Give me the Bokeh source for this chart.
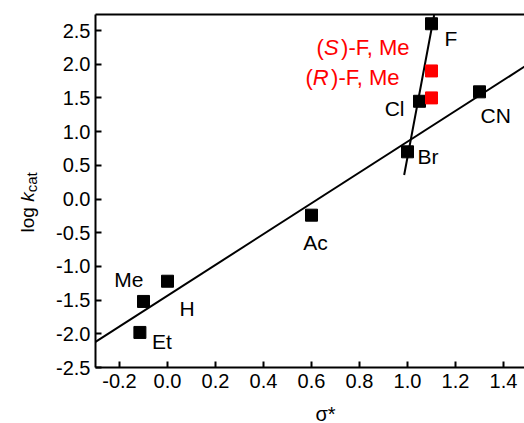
import math
from bokeh.plotting import figure
from bokeh.models import ColumnDataSource, Label, LinearAxis, FixedTicker, Range1d
from bokeh.core.properties import value
from bokeh.embed import file_html
from bokeh.resources import INLINE

# ---------------- data ----------------
names = ["Me", "H", "Et", "Ac", "Br", "Cl", "F", "CN"]
sigma = [-0.10, 0.00, -0.115, 0.60, 1.00, 1.05, 1.10, 1.30]
logk = [-1.52, -1.22, -1.98, -0.24, 0.70, 1.45, 2.60, 1.59]

red_names = ["S", "R"]
red_sigma = [1.10, 1.10]
red_logk = [1.90, 1.50]

# fitted lines (end points)
fit_all_x = [-0.30, 1.49]
fit_all_y = [-2.12, 1.97]
fit_hal_x = [0.986, 1.111]
fit_hal_y = [0.356, 2.73]

x_ticks = [-0.2, 0.0, 0.2, 0.4, 0.6, 0.8, 1.0, 1.2, 1.4]
x_tick_labels = ["-0.2", "0.0", "0.2", "0.4", "0.6", "0.8", "1.0", "1.2", "1.4"]
y_ticks = [-2.5, -2.0, -1.5, -1.0, -0.5, 0.0, 0.5, 1.0, 1.5, 2.0, 2.5]
y_tick_labels = ["-2.5", "-2.0", "-1.5", "-1.0", "-0.5", "0.0", "0.5", "1.0", "1.5", "2.0", "2.5"]

# axis extents (data)
AX_X0, AX_Y0 = -0.3, -2.5

# ---------------- styles / layout ----------------
FONT = "Liberation Sans"
W, H = 524, 423
LEFT_PX, TOP_PX, BOTTOM_PX = 95, 14, 367      # where the axes sit on the canvas
PPX, PPY = 240.0, 67.4                         # pixels per data unit
XS = AX_X0 - LEFT_PX / PPX
XE = AX_X0 + (W - LEFT_PX) / PPX
YS = AX_Y0 - (H - BOTTOM_PX) / PPY
YE = AX_Y0 + BOTTOM_PX / PPY
AX_YT = AX_Y0 + (BOTTOM_PX - TOP_PX) / PPY


def dy(py):
    """canvas pixel y (from top) -> data y"""
    return YE - py / PPY


def dx(px):
    return XS + px / PPX


# label offsets in pixels (dx, dy down-positive, align)
label_dx = [0, 12, 12, 4, 10, -15, 13, 1]
label_dy = [-22, 27, 9, 27, 5, 7, 15, 24]
label_align = ["right", "left", "left", "center", "left", "right", "left", "left"]

p = figure(width=W, height=H, x_range=Range1d(XS, XE), y_range=Range1d(YS, YE),
           output_backend="svg", toolbar_location=None,
           min_border_left=0, min_border_right=0, min_border_top=0, min_border_bottom=0)
p.grid.visible = False
p.outline_line_color = None
p.background_fill_color = "white"
p.border_fill_color = "white"

for ax in (p.xaxis[0], p.yaxis[0]):
    ax.axis_line_width = 2
    ax.axis_line_color = "black"
    ax.major_tick_line_width = 2
    ax.major_tick_line_color = "black"
    ax.major_tick_in = 6
    ax.major_tick_out = 0
    ax.minor_tick_line_color = None
    ax.major_label_text_font = FONT
    ax.major_label_text_font_size = "20px"
    ax.major_label_text_color = "black"

p.xaxis.ticker = FixedTicker(ticks=x_ticks)
p.xaxis.major_label_overrides = {t: l for t, l in zip(x_ticks, x_tick_labels)}
p.xaxis.major_label_standoff = 6
p.xaxis.fixed_location = AX_Y0
p.xaxis.bounds = (AX_X0, XE + 1)
p.yaxis.ticker = FixedTicker(ticks=y_ticks)
p.yaxis.major_label_overrides = {t: l for t, l in zip(y_ticks, y_tick_labels)}
p.yaxis.major_label_standoff = 5
p.yaxis.fixed_location = AX_X0
p.yaxis.bounds = (AX_Y0, AX_YT)

top = LinearAxis(ticker=FixedTicker(ticks=[]), major_label_text_font_size="0px",
                 axis_line_width=2, axis_line_color="black",
                 major_tick_line_color=None, minor_tick_line_color=None,
                 fixed_location=AX_YT, bounds=(AX_X0, XE + 1))
p.add_layout(top, "above")

# lines
p.line(fit_all_x, fit_all_y, line_width=2, line_color="black")
p.line(fit_hal_x, fit_hal_y, line_width=2, line_color="black")

# points
src = ColumnDataSource(dict(x=sigma, y=logk))
p.scatter("x", "y", source=src, marker="square", size=12, color="black")
rsrc = ColumnDataSource(dict(x=red_sigma, y=red_logk))
p.scatter("x", "y", source=rsrc, marker="square", size=12, color="#ff0000")

# black labels
for al in ("left", "right", "center"):
    idx = [i for i, a in enumerate(label_align) if a == al]
    s = ColumnDataSource(dict(x=[sigma[i] for i in idx], y=[logk[i] for i in idx],
                              t=[names[i] for i in idx], dx=[label_dx[i] for i in idx],
                              dy=[label_dy[i] for i in idx]))
    p.text("x", "y", text="t", source=s, x_offset="dx", y_offset="dy",
           text_align=al, text_baseline="middle", text_font=value(FONT),
           text_font_size="21px", text_color="black")

# red labels "(S)-F, Me" / "(R)-F, Me"
RF = 22
red_right = [-22, -32]
red_dy = [-23, -20]
w_tail = 3.222 * RF
w_letter = [0.667 * RF, 0.722 * RF]
tail_x = red_right
let_x = [red_right[i] - w_tail for i in range(2)]
par_x = [let_x[i] - w_letter[i] for i in range(2)]
for texts, offs, style in (([")-F, Me"] * 2, tail_x, "normal"),
                           (red_names, let_x, "italic"),
                           (["("] * 2, par_x, "normal")):
    s = ColumnDataSource(dict(x=red_sigma, y=red_logk, t=texts, dx=offs, dy=red_dy))
    p.text("x", "y", text="t", source=s, x_offset="dx", y_offset="dy",
           text_align="right", text_baseline="middle", text_font=value(FONT),
           text_font_size=f"{RF}px", text_color="#ff0000", text_font_style=style)

# y axis title: log k_cat
YF = 19
y_log = dy(232)
y_k = y_log + (1.334 + 0.278) * YF / PPY
y_cat = y_k + 0.5 * YF / PPY
for txt, yy, px, fs, st in (("log", y_log, 27, YF, "normal"),
                            ("k", y_k, 27, YF, "italic"),
                            ("cat", y_cat, 31, 15, "normal")):
    p.add_layout(Label(x=dx(px), y=yy, angle=math.pi / 2, text=txt,
                       text_font=FONT, text_font_size=f"{fs}px", text_font_style=st,
                       text_align="left", text_baseline="alphabetic", text_color="black"))

# x axis title: sigma*
p.add_layout(Label(x=dx(325), y=dy(413), text="σ*",
                   text_font=FONT, text_font_size="20px", text_align="center",
                   text_baseline="alphabetic", text_color="black"))

open("out.html", "w").write(file_html(p, INLINE))
